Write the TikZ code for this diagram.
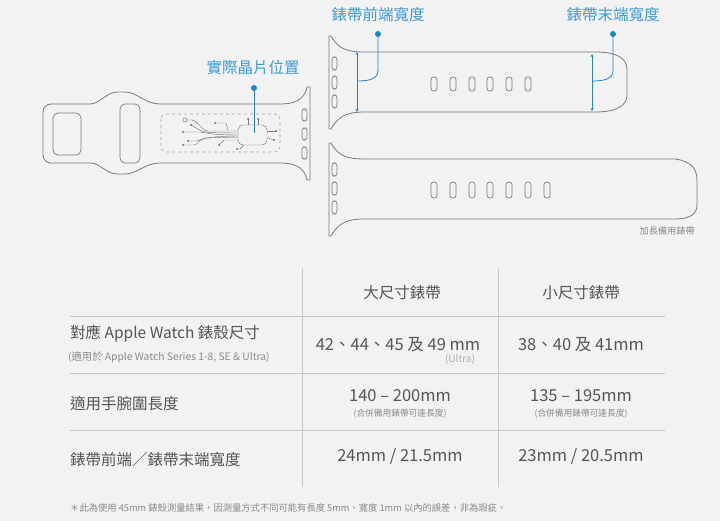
\documentclass[tikz,border=0pt]{standalone}
\usepackage{fontspec}
\setmainfont{Noto Sans CJK TC}
\usetikzlibrary{arrows.meta}
\definecolor{bg}{HTML}{F2F2F2}
\definecolor{band}{HTML}{7A7A7A}
\definecolor{blu}{HTML}{1E86C8}
\definecolor{blul}{HTML}{3C9AD6}
\definecolor{txt}{HTML}{555555}
\definecolor{sub}{HTML}{8A8A8A}
\definecolor{rule}{HTML}{C8C8C8}
\tikzset{
 bandline/.style={draw=band,line width=0.8pt},
 slot/.style={draw=band,line width=0.7pt,rounded corners=2.6pt},
 lbl/.style={text=blul,font=\fontsize{15.5}{16}\selectfont,inner sep=0},
 leader/.style={draw=blu,line width=0.8pt},
 dot/.style={circle,fill=blu,inner sep=0,minimum size=6pt},
 dim/.style={draw=blu,line width=0.7pt,{Stealth[length=3pt,width=3pt]}-{Stealth[length=3pt,width=3pt]}},
 hd/.style={text=txt,font=\fontsize{15.5}{16}\selectfont,inner sep=0},
 cell/.style={text=txt,font=\fontsize{16.5}{17}\selectfont,inner sep=0},
 rowl/.style={text=txt,font=\fontsize{15.5}{16}\selectfont,inner sep=0,anchor=west},
 small/.style={text=sub,font=\fontsize{8.7}{9}\selectfont,inner sep=0},
 rules/.style={draw=rule,line width=0.9pt},
 circ/.style={draw=band,line width=0.45pt},
 cdot/.style={circle,fill=band!80!black,inner sep=0,minimum size=2pt}
}
\begin{document}
\begin{tikzpicture}[x=1pt,y=-1pt]
\fill[bg] (0,0) rectangle (720,521);
\useasboundingbox (0,0) rectangle (720,521);
% ---- left band
\draw[bandline,rounded corners=8pt] (90,104) -- (43,104) -- (43,163) -- (90,163);
\draw[bandline] (90,104) .. controls (100,104) and (106,92) .. (118,92) -- (125,92) .. controls (137,92) and (145,104) .. (160,104) -- (280,104) .. controls (300,104) and (305,96) .. (307,87) -- (310,87) -- (310,180) -- (307,180) .. controls (305,171) and (300,163) .. (280,163) -- (160,163) .. controls (145,163) and (137,174) .. (125,174) -- (118,174) .. controls (106,174) and (100,163) .. (90,163);
\draw[slot,rounded corners=5pt] (53,113) rectangle (81,155);
\draw[slot,rounded corners=5pt] (120,104) rectangle (140,163);
\foreach \y in {109,128,147}{\draw[slot] (302,\y) rectangle (307,\y+12);}
% chip area
\draw[draw=band!70,dashed,line width=0.6pt,rounded corners=5pt] (161,114) rectangle (280,152);
\draw[circ,rounded corners=5pt] (238,125) rectangle (267,145);
\draw[circ] (185,120) circle (2.2pt);
\draw[circ] (185,120) -- (192,120) .. controls (198,120) and (200,130) .. (208,131) -- (238,131);
\draw[circ] (191,125) -- (198,129) .. controls (202,132) and (205,133) .. (238,133);
\draw[circ] (183,132) -- (200,132) .. controls (205,132) and (206,135) .. (238,135);
\draw[circ] (183,145) -- (194,145) .. controls (198,145) and (200,138) .. (205,138) -- (238,137);
\draw[circ] (188,141) -- (196,141) .. controls (200,141) and (202,136) .. (238,136);
\draw[circ] (215,123) -- (226,123) -- (228,130);
\draw[circ] (219,145) -- (224,140) -- (238,140);
\draw[circ] (248,119) -- (248,125); \draw[circ] (258,119) -- (258,125);
\draw[circ] (267,131) -- (276,131); \draw[circ] (267,138) -- (274,140);
\draw[circ] (244,145) -- (240,149) -- (237,149);
\foreach \p in {(191,125),(183,132),(183,145),(188,141),(215,123),(219,145),(248,119),(258,119),(276,131),(274,140),(237,149)}{\node[cdot] at \p {};}
\node[lbl] (chiplbl) at (253,68) {實際晶片位置};
\node[dot] (chipdot) at (254,88) {};
\coordinate (chipend) at (254,133);
\draw[leader] (chipdot) -- (chipend);
% ---- top right band
\draw[bandline] (329,36) -- (331,36) .. controls (338,48) and (345,52) .. (365,52) -- (595,52) .. controls (617,52) and (627,58) .. (627,70) -- (627,95) .. controls (627,105) and (618,112) .. (595,112) -- (365,112) .. controls (345,112) and (338,117) .. (331,129) -- (329,129) -- cycle;
\foreach \y in {57,76,95}{\draw[slot] (332,\y) rectangle (337,\y+13);}
\foreach \x in {434,453,472,490,509,528}{\draw[slot] (\x-3,77) rectangle (\x+3,91);}
% ---- bottom right band
\draw[bandline] (329,143) -- (331,143) .. controls (338,155) and (345,159) .. (365,159) -- (675,159) .. controls (690,161) and (697,168) .. (697,180) -- (697,205) .. controls (697,214) and (690,219) .. (675,219) -- (365,219) .. controls (345,219) and (338,224) .. (331,236) -- (329,236) -- cycle;
\foreach \y in {163,182,201}{\draw[slot] (332,\y) rectangle (337,\y+13);}
\foreach \x in {434,453,472,490,509,528,547}{\draw[slot] (\x-3,182) rectangle (\x+3,198);}
\node[small,anchor=east,font=\fontsize{9.2}{9}\selectfont] (extra) at (695,231) {加長備用錶帶};
% dimensions
\coordinate (fa) at (357,52); \coordinate (fb) at (357,112);
\draw[dim] (fa) -- (fb);
\node[lbl] (frontlbl) at (378,15) {錶帶前端寬度};
\node[dot] (frontdot) at (378,34) {};
\coordinate (frontend) at (357,81);
\draw[leader] (frontdot) -- (378,70) .. controls (378,78) and (372,81) .. (frontend);
\coordinate (ea) at (592,54); \coordinate (eb) at (592,111);
\draw[dim] (ea) -- (eb);
\node[lbl] (endlbl) at (613,15) {錶帶末端寬度};
\node[dot] (enddot) at (613,34) {};
\coordinate (endend) at (592,81);
\draw[leader] (enddot) -- (613,70) .. controls (613,78) and (607,81) .. (endend);
% ---- table
\draw[rules] (302,268) -- (302,487);
\draw[rules] (498,268) -- (498,487);
\foreach \y in {316,373,430}{\draw[rules] (70,\y) -- (665,\y);}
\node[hd] (h1) at (402,293) {大尺寸錶帶};
\node[hd] (h2) at (581,293) {小尺寸錶帶};
\node[rowl] (r1) at (70,334) {對應 Apple Watch 錶殼尺寸};
\node[small,anchor=west,font=\fontsize{10.3}{10}\selectfont] (r1s) at (68,357) {(適用於 Apple Watch Series 1-8, SE \& Ultra)};
\node[cell] (c11) at (398,345) {42、44、45 及 49 mm};
\node[small,font=\fontsize{10}{10}\selectfont,text=sub!70] (c11s) at (460,359) {(Ultra)};
\node[cell] (c12) at (581,345) {38、40 及 41mm};
\node[rowl] (r2) at (70,404) {適用手腕圍長度};
\node[cell] (c21) at (400,396) {140 – 200mm};
\node[small] (c21s) at (400,414) {(合併備用錶帶可達長度)};
\node[cell] (c22) at (581,396) {135 – 195mm};
\node[small] (c22s) at (581,414) {(合併備用錶帶可達長度)};
\node[rowl] (r3) at (70,460) {錶帶前端／錶帶末端寬度};
\node[cell] (c31) at (400,456) {24mm / 21.5mm};
\node[cell] (c32) at (581,456) {23mm / 20.5mm};
\node[small,anchor=west,font=\fontsize{9.3}{9}\selectfont] (note) at (70,508) {＊此為使用 45mm 錶殼測量結果，因測量方式不同可能有長度 5mm、寬度 1mm 以內的誤差，非為瑕疵。};
\end{tikzpicture}
\end{document}
